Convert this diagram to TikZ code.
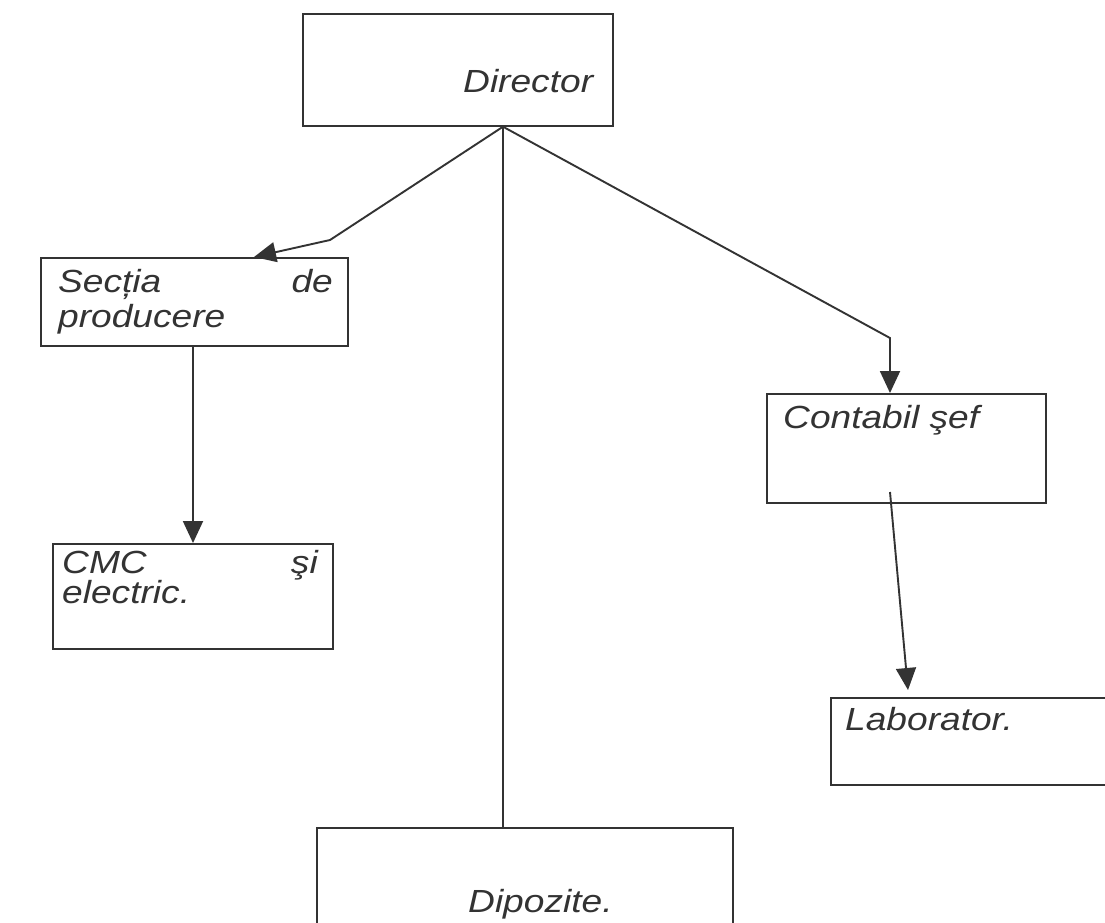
\documentclass[tikz,border=0pt]{standalone}
\usepackage{fontspec}
\setmainfont{Liberation Sans}
\usetikzlibrary{arrows.meta,calc}
\definecolor{ink}{HTML}{333333}
\newcommand{\wtxt}[1]{\scalebox{1.16}[1]{#1}}
\tikzset{
  box/.style={draw=ink, line width=1.7pt, rectangle, inner sep=0pt, anchor=north west},
  lbl/.style={text=ink, inner sep=0pt, font=\itshape\fontsize{32}{36}\selectfont},
  conn/.style={draw=ink, line width=1.9pt},
  arr/.style={conn, -{Triangle[width=20pt,length=22pt]}}
}
\begin{document}
\begin{tikzpicture}[x=1pt,y=-1pt]
\useasboundingbox[fill=white] (0,0) rectangle (1105,922);
% boxes
\node[box, minimum width=310pt, minimum height=112pt] (dir) at (302,13) {};
\node[box, minimum width=307pt, minimum height=88pt] (sec) at (40,257) {};
\node[box, minimum width=280pt, minimum height=105pt] (cmc) at (52,543) {};
\node[box, minimum width=279pt, minimum height=109pt] (con) at (766,393) {};
\node[box, minimum width=290pt, minimum height=87pt] (lab) at (830,697) {};
\node[box, minimum width=416pt, minimum height=110pt] (dip) at (316,827) {};
% texts
\node[lbl, anchor=base west] (tdir) at (463,92) {\wtxt{Director}};
\node[lbl, anchor=base west] (tsec1) at (58,292) {\wtxt{Secția}};
\node[lbl, anchor=base east] (tsec2) at (333,292) {\wtxt{de}};
\node[lbl, anchor=base west] (tsec3) at (58,327) {\wtxt{producere}};
\node[lbl, anchor=base west] (tcmc1) at (62,573) {\wtxt{CMC}};
\node[lbl, anchor=base east] (tcmc2) at (318,573) {\wtxt{şi}};
\node[lbl, anchor=base west] (tcmc3) at (62,603) {\wtxt{electric.}};
\node[lbl, anchor=base west] (tcon) at (783,428) {\wtxt{Contabil şef}};
\node[lbl, anchor=base west] (tlab) at (845,730) {\wtxt{Laborator.}};
\node[lbl, anchor=base west] (tdip) at (468,912) {\wtxt{Dipozite.}};
% connector points
\coordinate (dtop) at (dir.south -| 503,0);
\coordinate (lbend) at (330,240);
\coordinate (sectip) at (sec.north -| 254,0);
\coordinate (rbend) at (890,338);
\coordinate (contip) at (con.north -| 890,0);
\coordinate (cstart) at (890,492);
\coordinate (labtip) at (908,690);
% connectors
\draw[arr] (dtop) -- (lbend) -- (sectip);
\draw[conn] (dtop) -- (dtop |- dip.north);
\draw[arr] (dtop) -- (rbend) -- (contip);
\draw[arr] (sec.south -| 193,0) -- (cmc.north -| 193,0);
\draw[arr] (cstart) -- (labtip);
\end{tikzpicture}
\end{document}
